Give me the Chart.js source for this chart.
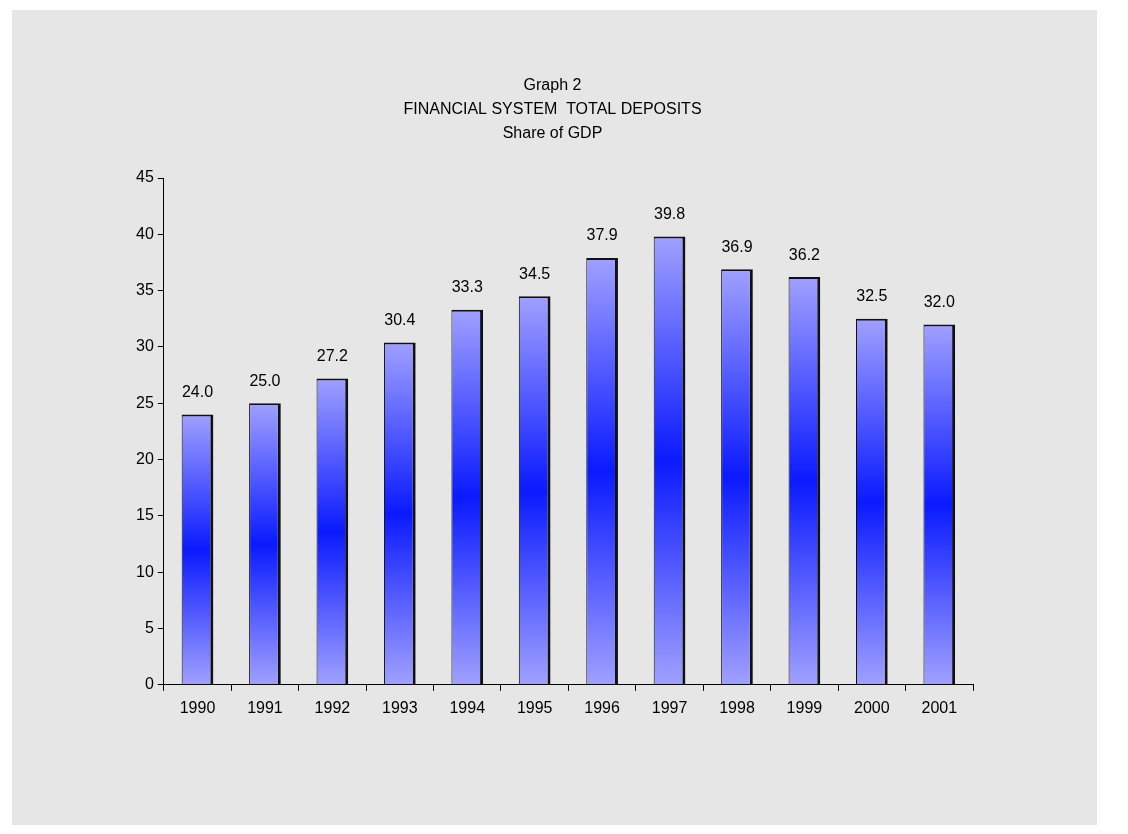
<!DOCTYPE html>
<html><head><meta charset="utf-8">
<script src="https://cdn.jsdelivr.net/npm/chart.js@4/dist/chart.umd.min.js"></script>
<style>
body{margin:0;background:#fff;}
#wrap{position:absolute;left:12px;top:10px;width:1085px;height:815px;background:#e6e6e6;}
</style></head><body>
<div id="wrap"><canvas id="c" width="1085" height="815"></canvas></div>
<script>
var years = ['1990','1991','1992','1993','1994','1995','1996','1997','1998','1999','2000','2001'];
var deposits = [24.0, 25.0, 27.2, 30.4, 33.3, 34.5, 37.9, 39.8, 36.9, 36.2, 32.5, 32.0];
var titleLines = ['Graph 2', 'FINANCIAL SYSTEM  TOTAL DEPOSITS', 'Share of GDP'];

var font = 'Liberation Sans, Arial, sans-serif';

var labelPlugin = {
    id: 'labels',
    afterDatasetsDraw: function(chart) {
        var ctx = chart.ctx;
        var meta = chart.getDatasetMeta(0);
        ctx.save();
        ctx.fillStyle = '#000';
        ctx.font = '16px ' + font;
        ctx.textAlign = 'center';
        ctx.textBaseline = 'bottom';
        meta.data.forEach(function(bar, i) {
            ctx.fillText(deposits[i].toFixed(1), bar.x, bar.y - 14);
        });
        ctx.restore();
    }
};

new Chart(document.getElementById('c').getContext('2d'), {
    type: 'bar',
    data: {
        labels: years,
        datasets: [{
            data: deposits,
            backgroundColor: function(c) {
                var chart = c.chart;
                if (!chart.chartArea || c.dataIndex === undefined) return '#8080ff';
                var y = chart.scales.y;
                var top = y.getPixelForValue(deposits[c.dataIndex]);
                var bot = y.getPixelForValue(0);
                var g = chart.ctx.createLinearGradient(0, top, 0, bot);
                g.addColorStop(0, '#a0a0ff');
                g.addColorStop(0.5, '#0a1aff');
                g.addColorStop(1, '#a0a0ff');
                return g;
            },
            borderColor: '#111',
            borderWidth: {top: 2, right: 3, left: 1, bottom: 0},
            borderSkipped: false,
            categoryPercentage: 1,
            barPercentage: 0.47
        }]
    },
    options: {
        responsive: false,
        animation: false,
        layout: {padding: {left: 120, right: 124, top: 0, bottom: 99}},
        plugins: {
            legend: {display: false},
            tooltip: {enabled: false},
            title: {
                display: true,
                text: titleLines,
                color: '#000',
                font: {family: font, size: 16, weight: 'normal', lineHeight: 1.5},
                padding: {top: 64, bottom: 32}
            }
        },
        scales: {
            x: {
                offset: true,
                grid: {display: true, drawOnChartArea: false, offset: true, color: '#000', tickLength: 6},
                border: {color: '#000'},
                ticks: {color: '#000', font: {family: font, size: 16}, padding: 8}
            },
            y: {
                min: 0, max: 45,
                ticks: {stepSize: 5, color: '#000', font: {family: font, size: 16}, padding: 4},
                grid: {display: true, drawOnChartArea: false, color: '#000', tickLength: 6},
                border: {color: '#000'}
            }
        }
    },
    plugins: [labelPlugin]
});
</script>
</body></html>
